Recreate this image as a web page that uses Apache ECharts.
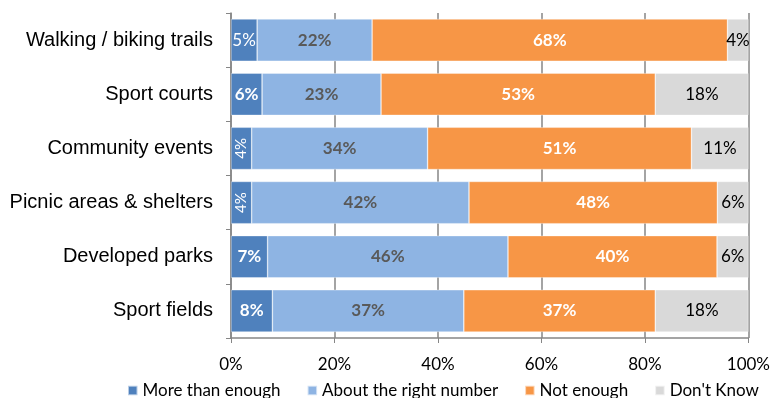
<!DOCTYPE html>
<html>
<head>
<meta charset="utf-8">
<script src="https://cdn.jsdelivr.net/npm/echarts@6/dist/echarts.min.js"></script>
<style>
  html, body { margin: 0; padding: 0; background: #fff; }
  #chart { width: 773px; height: 398px; }
</style>
</head>
<body>
<div id="chart"></div>
<script>
// Survey responses per amenity (percent of respondents)
const categories = [
  'Walking / biking trails',
  'Sport courts',
  'Community events',
  'Picnic areas & shelters',
  'Developed parks',
  'Sport fields'
];
const seriesNames = ['More than enough', 'About the right number', 'Not enough', "Don't Know"];
const moreThanEnough = [5, 6, 4, 4, 7, 8];
const aboutRight = [22, 23, 34, 42, 46, 37];
const notEnough = [68, 53, 51, 48, 40, 37];
const dontKnow = [4, 18, 11, 6, 6, 18];
const xTicks = [0, 20, 40, 60, 80, 100];

const colors = ['#4f81bd', '#8eb4e3', '#f79646', '#d9d9d9'];
const FONT = 'Lato';
const CAT_FONT = 'Liberation Sans';

const raw = [moreThanEnough, aboutRight, notEnough, dontKnow];
// each row is scaled to fill 100% of the bar
const rowTotals = categories.map((_, i) => raw.reduce((s, arr) => s + arr[i], 0));

function labelFor(seriesIdx, catIdx) {
  const v = raw[seriesIdx][catIdx];
  const base = { show: true, formatter: v + '%', fontFamily: FONT, fontSize: 17 };
  if (seriesIdx === 0) {
    base.color = '#ffffff';
    if (v <= 4) { base.rotate = 90; base.fontWeight = 'normal'; base.fontSize = 15; }
    else if (v === 5) { base.fontWeight = 'normal'; }
    else { base.fontWeight = 'bold'; }
  } else if (seriesIdx === 1) {
    base.color = '#595959'; base.fontWeight = 'bold';
  } else if (seriesIdx === 2) {
    base.color = '#ffffff'; base.fontWeight = 'bold';
  } else {
    base.color = '#000000'; base.fontWeight = 'normal';
  }
  return base;
}

const series = raw.map((arr, si) => ({
  name: seriesNames[si],
  type: 'bar',
  stack: 'total',
  barCategoryGap: '22%',
  itemStyle: { color: colors[si], borderColor: 'rgba(255,255,255,0.6)', borderWidth: 0.6 },
  label: { show: true, position: 'inside' },
  emphasis: { disabled: true },
  data: arr.map((v, ci) => ({
    value: v / rowTotals[ci] * 100,
    label: labelFor(si, ci)
  }))
}));

const chart = echarts.init(document.getElementById('chart'), null, { renderer: 'canvas' });
chart.setOption({
  animation: false,
  color: colors,
  grid: { left: 231, right: 20.5, top: 13, bottom: 60, containLabel: false },
  legend: {
    top: 382,
    left: 127,
    padding: 0,
    itemWidth: 9.5,
    itemHeight: 9.5,
    itemGap: 26,
    icon: 'rect',
    textStyle: { fontFamily: FONT, fontSize: 17, color: '#000' },
    data: seriesNames
  },
  xAxis: {
    type: 'value',
    min: 0,
    max: 100,
    interval: 20,
    axisLine: { show: true, lineStyle: { color: '#868686', width: 1.5 } },
    axisTick: { show: true, length: 5, lineStyle: { color: '#868686' } },
    splitLine: { show: true, lineStyle: { color: '#868686', width: 1.5 } },
    axisLabel: {
      fontFamily: FONT, fontSize: 17, color: '#000', margin: 18,
      formatter: v => xTicks.includes(v) ? v + '%' : ''
    }
  },
  yAxis: {
    type: 'category',
    inverse: true,
    data: categories,
    axisLine: { show: true, lineStyle: { color: '#868686', width: 1.5 } },
    axisTick: { show: true, length: 5, lineStyle: { color: '#868686' } },
    axisLabel: { fontFamily: CAT_FONT, fontSize: 20, color: '#000', margin: 18 }
  },
  series: series
});
</script>
</body>
</html>
